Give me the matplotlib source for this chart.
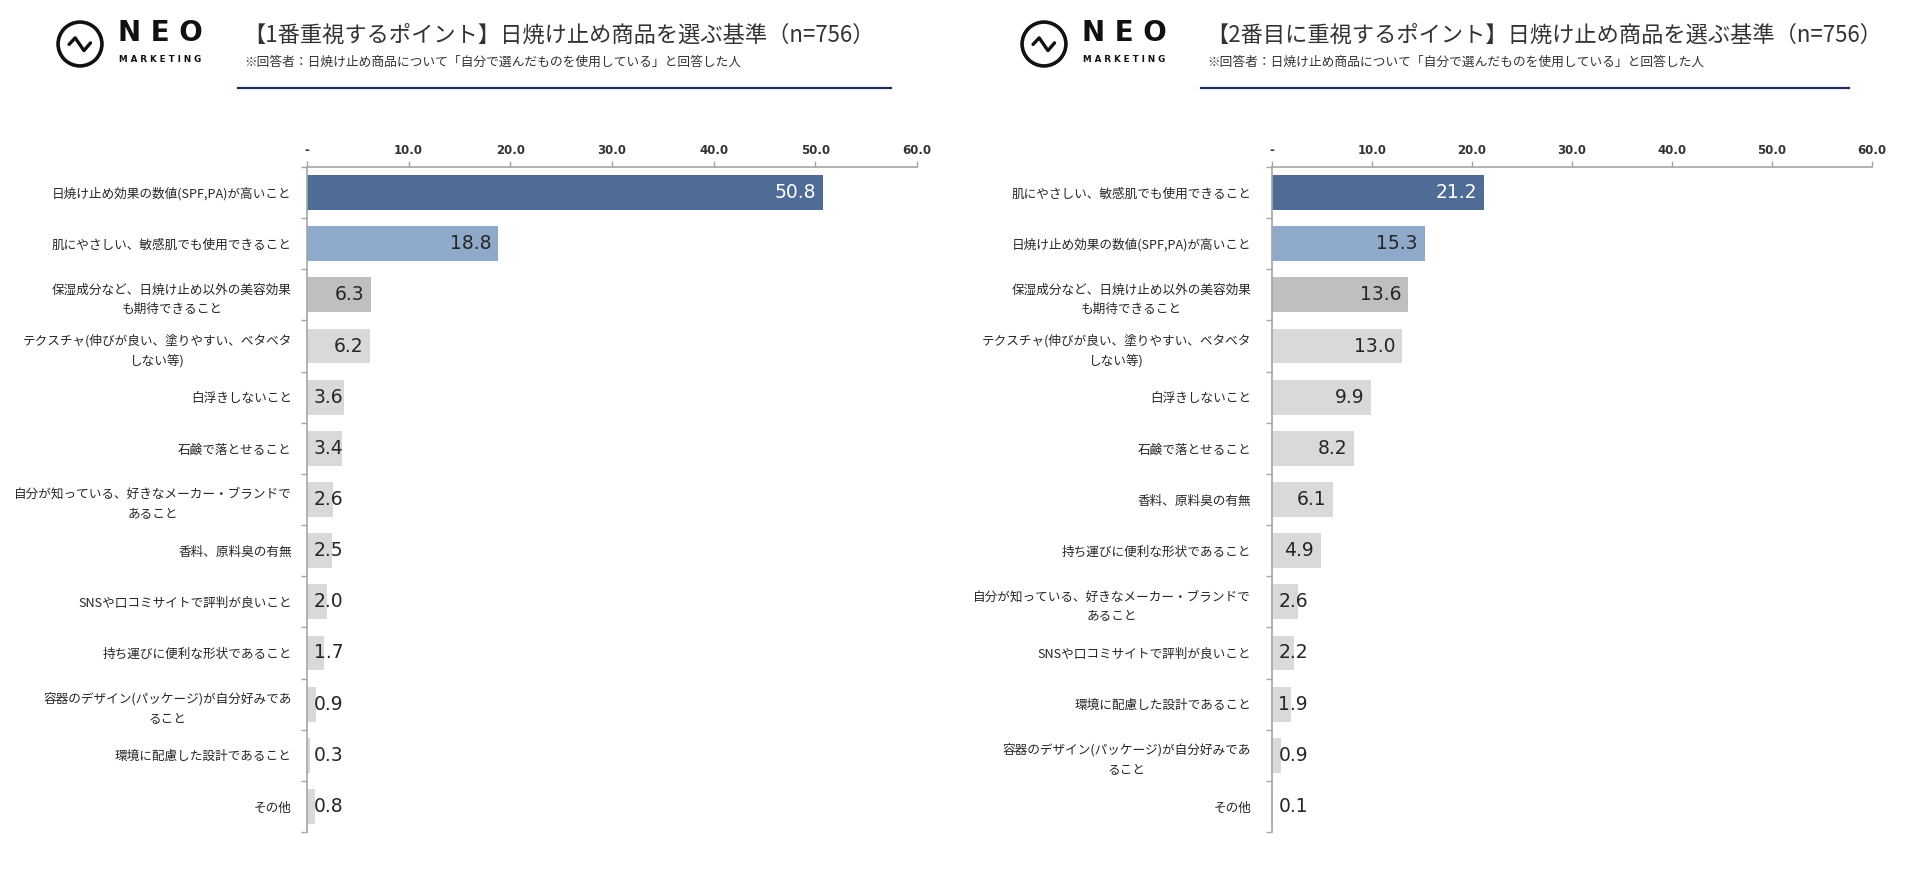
import matplotlib
matplotlib.use('Agg')
import matplotlib.pyplot as plt
from matplotlib.patches import Circle
from matplotlib.ticker import FuncFormatter

plt.rcParams['font.family'] = ['Noto Sans CJK JP', 'DejaVu Sans']

# --- data ---
left_title = '【1番重視するポイント】日焼け止め商品を選ぶ基準（n=756）'
right_title = '【2番目に重視するポイント】日焼け止め商品を選ぶ基準（n=756）'
note = '※回答者：日焼け止め商品について「自分で選んだものを使用している」と回答した人'

left_items = [
    '日焼け止め効果の数値(SPF,PA)が高いこと',
    '肌にやさしい、敏感肌でも使用できること',
    '保湿成分など、日焼け止め以外の美容効果\nも期待できること',
    'テクスチャ(伸びが良い、塗りやすい、ベタベタ\nしない等)',
    '白浮きしないこと',
    '石鹸で落とせること',
    '自分が知っている、好きなメーカー・ブランドで\nあること',
    '香料、原料臭の有無',
    'SNSや口コミサイトで評判が良いこと',
    '持ち運びに便利な形状であること',
    '容器のデザイン(パッケージ)が自分好みであ\nること',
    '環境に配慮した設計であること',
    'その他',
]
left_values = [50.8, 18.8, 6.3, 6.2, 3.6, 3.4, 2.6, 2.5, 2.0, 1.7, 0.9, 0.3, 0.8]

right_items = [
    '肌にやさしい、敏感肌でも使用できること',
    '日焼け止め効果の数値(SPF,PA)が高いこと',
    '保湿成分など、日焼け止め以外の美容効果\nも期待できること',
    'テクスチャ(伸びが良い、塗りやすい、ベタベタ\nしない等)',
    '白浮きしないこと',
    '石鹸で落とせること',
    '香料、原料臭の有無',
    '持ち運びに便利な形状であること',
    '自分が知っている、好きなメーカー・ブランドで\nあること',
    'SNSや口コミサイトで評判が良いこと',
    '環境に配慮した設計であること',
    '容器のデザイン(パッケージ)が自分好みであ\nること',
    'その他',
]
right_values = [21.2, 15.3, 13.6, 13.0, 9.9, 8.2, 6.1, 4.9, 2.6, 2.2, 1.9, 0.9, 0.1]

bar_colors = ['#4e6c96', '#8fa9ca', '#bfbfbf'] + ['#d9d9d9'] * 10

W, H = 1920, 876
fig = plt.figure(figsize=(W / 100, H / 100), dpi=100)


def draw_logo(cx, cy):
    r = 22
    lax = fig.add_axes([(cx - r - 3) / W, 1 - (cy + r + 3) / H, (2 * r + 6) / W, (2 * r + 6) / H])
    lax.set_xlim(-1.14, 1.14)
    lax.set_ylim(-1.14, 1.14)
    lax.axis('off')
    lax.add_patch(Circle((0, 0), 1, fill=False, lw=2.6, color='#111111'))
    lax.plot([-0.5, -0.22, 0.18, 0.48], [-0.02, 0.28, -0.3, 0.05],
             color='#111111', lw=2.4, solid_capstyle='round')
    fig.text((cx + 38) / W, 1 - 33 / H, 'N E O', fontsize=20, fontweight='bold',
             family='DejaVu Sans', color='#111111', va='center', ha='left')
    fig.text((cx + 39) / W, 1 - 59 / H, 'M A R K E T I N G', fontsize=6.3, fontweight='bold',
             family='DejaVu Sans', color='#111111', va='center', ha='left')


def draw_panel(x0, width, items, values, title, tx, line_end, label_pad):
    ax = fig.add_axes([x0 / W, 1 - 832 / H, width / W, 665 / H])
    pos = list(range(len(items)))
    ax.barh(pos, values, height=0.68, color=bar_colors[:len(values)])
    ax.set_xlim(0, 60)
    ax.set_ylim(len(items) - 0.5, -0.5)

    ax.xaxis.tick_top()
    ax.set_xticks(range(0, 61, 10))
    ax.xaxis.set_major_formatter(FuncFormatter(lambda v, p: '-' if v == 0 else f'{v:.1f}'))
    ax.tick_params(axis='x', length=4, width=1, color='#a6a6a6', pad=3,
                   labelsize=8.5, labelcolor='#333333')
    for lab in ax.get_xticklabels():
        lab.set_fontweight('bold')
        lab.set_family('DejaVu Sans')

    ax.set_yticks(pos)
    ax.set_yticklabels(items, fontsize=9.1, color='#262626', linespacing=1.7)
    for lab in ax.get_yticklabels():
        lab.set_multialignment('center')
    ax.set_yticks([i - 0.5 for i in range(len(items) + 1)], minor=True)
    ax.tick_params(axis='y', which='major', length=0, pad=label_pad)
    ax.tick_params(axis='y', which='minor', length=4, width=1, color='#a6a6a6')

    for s in ['right', 'bottom']:
        ax.spines[s].set_visible(False)
    for s in ['top', 'left']:
        ax.spines[s].set_color('#a6a6a6')
        ax.spines[s].set_linewidth(1.2)

    for i, v in enumerate(values):
        ax.text(max(v - 0.7, 3.6), i, f'{v:.1f}', ha='right', va='center',
                fontsize=13.5, family='DejaVu Sans',
                color='white' if i == 0 else '#262626')

    fig.text(tx / W, 1 - 35 / H, title, fontsize=16, color='#333333', va='center', ha='left')
    fig.text((tx + 1) / W, 1 - 62 / H, note, fontsize=9.2, color='#333333', va='center', ha='left')
    fig.add_artist(plt.Line2D([(tx - 5) / W, line_end / W], [1 - 88 / H, 1 - 88 / H],
                              color='#1f2a55', lw=1.6))


draw_logo(80, 44)
draw_logo(1044, 44)
draw_panel(307, 610, left_items, left_values, left_title, 243, 891, 11)
draw_panel(1272, 600, right_items, right_values, right_title, 1206, 1849, 15)

fig.savefig('out.png', dpi=100, facecolor='white')
